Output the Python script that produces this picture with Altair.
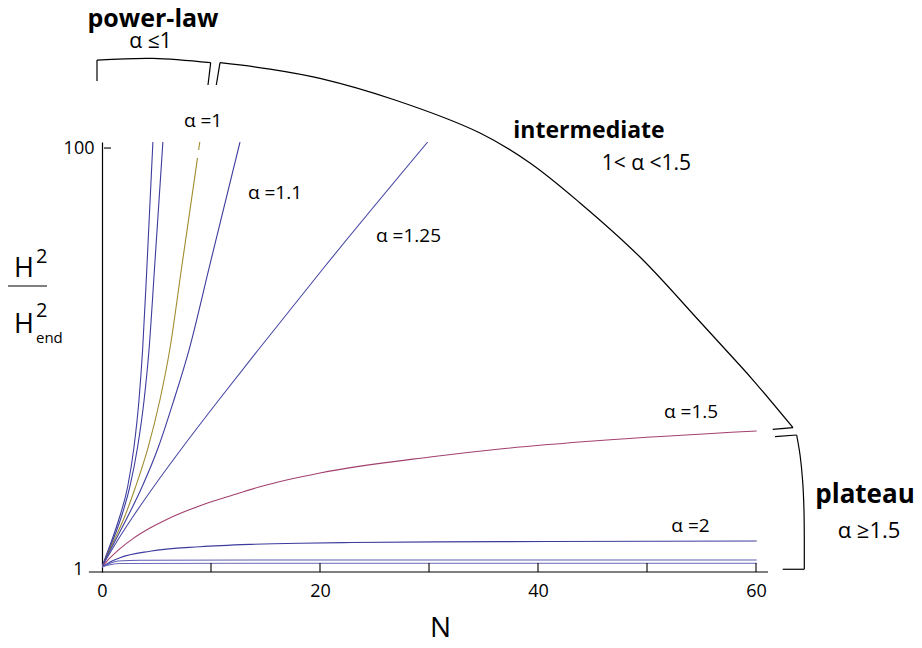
import altair as alt
import pandas as pd

FONT = "Open Sans"

# ---------------- curve data (N, H^2/H^2_end) ----------------
V_STEEP = [1.033, 1.152, 1.358, 1.783, 2.474, 3.827, 6.393, 11.03, 27.29, 106.8]

N_a1 = [0, 0.330, 0.844, 1.615, 2.349, 2.936, 3.394, 3.725, 4.119, 4.670]
N_a2 = [0, 0.367, 0.936, 1.771, 2.550, 3.266, 3.862, 4.312, 4.826, 5.587]
N_a11 = [0, 0.440, 1.147, 2.339, 3.670, 5.174, 6.596, 7.982, 9.844, 12.661]
N_a125 = [0, 0.514, 1.339, 2.817, 4.725, 7.413, 10.716, 14.321, 20.404, 29.881]

# alpha = 1 (drawn with a small break near the top, as in the original)
N_a10_lo = [0, 0.404, 1.037, 2.064, 3.073, 4.239, 5.312, 6.211, 7.312, 8.761]
V_a10_lo = [1.033, 1.152, 1.358, 1.783, 2.474, 3.827, 6.393, 11.03, 27.29, 89.66]
N_a10_hi = [8.862, 8.972]
V_a10_hi = [97.84, 106.8]

N_a15 = [0, 0.734, 1.651, 2.844, 4.404, 5.936, 8.991, 11.743, 14.495, 20.0, 30.09, 36.51, 45.69, 60.06]
V_a15 = [1.033, 1.140, 1.263, 1.409, 1.581, 1.737, 2.017, 2.242, 2.482, 2.883, 3.432, 3.746, 4.110, 4.559]

N_a2p = [0, 0.734, 1.651, 4.404, 8.991, 13.578, 18.165, 22.936, 36.514, 60.06]
V_a2p = [1.033, 1.091, 1.144, 1.228, 1.289, 1.322, 1.340, 1.350, 1.363, 1.372]

N_a3 = [0, 0.734, 1.468, 3.486, 14.50, 60.06]
V_a3 = [1.033, 1.074, 1.103, 1.112, 1.115, 1.115]

N_a4 = [0, 0.734, 1.651, 14.50, 60.06]
V_a4 = [1.033, 1.058, 1.074, 1.076, 1.076]

series = [
    ("s1", N_a1, V_STEEP),
    ("s2", N_a2, V_STEEP),
    ("alpha=1", N_a10_lo, V_a10_lo),
    ("alpha=1 top", N_a10_hi, V_a10_hi),
    ("alpha=1.1", N_a11, V_STEEP),
    ("alpha=1.25", N_a125, V_STEEP),
    ("alpha=1.5", N_a15, V_a15),
    ("alpha=2", N_a2p, V_a2p),
    ("s3", N_a3, V_a3),
    ("s4", N_a4, V_a4),
]
series_colors = ["#3c3c9e", "#3c3c9e", "#a08c30", "#a08c30", "#3c3c9e", "#4a4aa8",
                 "#a2406f", "#3c3c9e", "#5c5cb4", "#6a6abc"]

# curve labels
lab_text = ["α =1", "α =1.1", "α =1.25", "α =1.5", "α =2"]
lab_N = [9.27, 15.87, 28.12, 54.04, 53.99]
lab_V = [126.2, 57.5, 35.97, 5.236, 1.519]

# regime titles / conditions
grp_text = ["power-law", "intermediate", "plateau"]
grp_N = [4.68, 44.68, 70.0]
grp_V = [374.6, 111.2, 2.084]
grp_size = [25, 23, 26]
cond_text = ["α ≤1", "1<  α  <1.5", "α ≥1.5"]
cond_N = [4.45, 49.95, 70.37]
cond_V = [297.8, 78.65, 1.413]
cond_size = [21, 21, 22]

# brackets: (segment, kind, N list, V list)
brackets = [
    ("pl_l", "lin", [-0.459, -0.459], [207.7, 261.2]),
    ("pl_a", "arc", [-0.459, 4.679, 9.972], [261.2, 266.1, 253.8]),
    ("pl_r", "lin", [9.972, 9.725], [253.8, 198.9]),
    ("im_l", "lin", [10.486, 10.826], [198.9, 253.8]),
    ("im_a", "arc", [10.826, 15.41, 20.0, 26.881, 34.679, 39.266, 43.853, 49.358, 54.862, 58.073, 59.725, 63.394],
     [253.8, 236.8, 213.9, 168.9, 117.8, 84.9, 54.9, 30.43, 15.02, 9.89, 7.95, 4.725]),
    ("im_e", "lin", [63.394, 61.532], [4.725, 4.643]),
    ("pt_t", "lin", [61.743, 63.73], [4.283, 4.364]),
    ("pt_a", "arc", [63.73, 64.04, 64.27, 64.40, 64.43], [4.364, 3.508, 2.670, 1.925, 1.008]),
    ("pt_b", "lin", [64.43, 62.45], [1.008, 1.008]),
]

X_TICKS = [10, 20, 30, 40, 50, 60]
X_LABELS = [0, 20, 40, 60]
Y_LABELS = [1, 100]
X_MIN, X_MAX = 0, 61.1
Y_MIN, Y_MAX = 0.9784, 106.8

# ---------------- build tables ----------------
rows = []
for name, Ns, Vs in series:
    for i, (n, v) in enumerate(zip(Ns, Vs)):
        rows.append({"series": name, "N": n, "H2": v, "i": i})
df_curves = pd.DataFrame(rows)

brows = []
for seg, kind, Ns, Vs in brackets:
    for i, (n, v) in enumerate(zip(Ns, Vs)):
        brows.append({"seg": seg, "kind": kind, "N": n, "H2": v, "i": i})
df_br = pd.DataFrame(brows)

df_lab = pd.DataFrame({"text": lab_text, "N": lab_N, "H2": lab_V})
df_grp = pd.DataFrame({"text": grp_text, "N": grp_N, "H2": grp_V, "size": grp_size})
df_cond = pd.DataFrame({"text": cond_text, "N": cond_N, "H2": cond_V, "size": cond_size})
df_xt = pd.DataFrame({"N": X_TICKS, "y0": [Y_MIN] * len(X_TICKS), "y1": [1.079] * len(X_TICKS)})
one = pd.DataFrame({"a": [0]})

xscale = alt.Scale(domain=[X_MIN, X_MAX], nice=False, zero=False)
yscale = alt.Scale(type="log", domain=[Y_MIN, Y_MAX], nice=False)

x_enc = alt.X(
    "N:Q", scale=xscale,
    axis=alt.Axis(values=X_LABELS, ticks=False, domain=False, grid=False,
                  labelFont=FONT, labelFontSize=18, labelColor="black",
                  labelPadding=10, labelFlush=False,
                  title="N", titleFont=FONT, titleFontSize=28, titleFontWeight="normal",
                  titleColor="black", titleX=338, titleY=64,
                  titleBaseline="alphabetic", titleAlign="center"),
)
y_enc = alt.Y(
    "H2:Q", scale=yscale,
    axis=alt.Axis(values=Y_LABELS, format="d", ticks=False, domain=True,
                  domainColor="black", domainWidth=1.2, grid=False,
                  labelFont=FONT, labelFontSize=18, labelColor="black",
                  labelPadding={"condition": {"test": "datum.value == 1", "value": 19}, "value": 8},
                  labelFlush=False, labelBaseline="middle", title=None),
)

curves = alt.Chart(df_curves).mark_line(interpolate="monotone", strokeWidth=1.1, clip=True).encode(
    x=x_enc, y=y_enc,
    color=alt.Color("series:N", scale=alt.Scale(domain=[s[0] for s in series], range=series_colors), legend=None),
    order="i:Q",
)

x_axis_line = alt.Chart(one).mark_rule(color="black", strokeWidth=1.2).encode(
    x=alt.datum(-1.2), x2=alt.datum(X_MAX), y=alt.datum(Y_MIN)
)
x_ticks = alt.Chart(df_xt).mark_rule(color="black", strokeWidth=1.1).encode(
    x="N:Q", y="y0:Q", y2="y1:Q"
)
y_tick = alt.Chart(one).mark_rule(color="black", strokeWidth=1.1).encode(
    x=alt.datum(0.18), x2=alt.datum(0.83), y=alt.datum(100)
)

labels = alt.Chart(df_lab).mark_text(font=FONT, fontSize=19, align="center", baseline="alphabetic",
                                     color="black").encode(x="N:Q", y="H2:Q", text="text:N")
groups = alt.Chart(df_grp).mark_text(font=FONT, fontWeight="bold", align="center",
                                     baseline="alphabetic", color="black").encode(
    x="N:Q", y="H2:Q", text="text:N", size=alt.Size("size:Q", scale=None, legend=None))
conds = alt.Chart(df_cond).mark_text(font=FONT, align="center", baseline="alphabetic",
                                     color="black").encode(
    x="N:Q", y="H2:Q", text="text:N", size=alt.Size("size:Q", scale=None, legend=None))

br_lin = alt.Chart(df_br).transform_filter("datum.kind == 'lin'").mark_line(
    color="black", strokeWidth=1.2, clip=False, interpolate="linear").encode(
    x="N:Q", y="H2:Q", detail="seg:N", order="i:Q")
br_arc = alt.Chart(df_br).transform_filter("datum.kind == 'arc'").mark_line(
    color="black", strokeWidth=1.2, clip=False, interpolate="catmull-rom").encode(
    x="N:Q", y="H2:Q", detail="seg:N", order="i:Q")

# y title: H^2 / H^2_end
t_H1 = alt.Chart(one).mark_text(text="H", font=FONT, fontSize=27, align="center", baseline="alphabetic",
                                color="black").encode(x=alt.value(-78), y=alt.value(135))
t_21 = alt.Chart(one).mark_text(text="2", font=FONT, fontSize=20, align="left", baseline="alphabetic",
                                color="black").encode(x=alt.value(-66), y=alt.value(121))
t_bar = alt.Chart(one).mark_rule(color="black", strokeWidth=1.2).encode(
    x=alt.value(-94), x2=alt.value(-55), y=alt.value(144))
t_H2 = alt.Chart(one).mark_text(text="H", font=FONT, fontSize=27, align="center", baseline="alphabetic",
                                color="black").encode(x=alt.value(-78), y=alt.value(191))
t_22 = alt.Chart(one).mark_text(text="2", font=FONT, fontSize=20, align="left", baseline="alphabetic",
                                color="black").encode(x=alt.value(-66), y=alt.value(175))
t_end = alt.Chart(one).mark_text(text="end", font=FONT, fontSize=15, align="left", baseline="alphabetic",
                                 color="black").encode(x=alt.value(-66), y=alt.value(201))

chart = alt.layer(
    curves, x_axis_line, x_ticks, y_tick, labels, groups, conds, br_lin, br_arc,
    t_H1, t_21, t_bar, t_H2, t_22, t_end,
).properties(
    width=666, height=430,
    autosize=alt.AutoSizeParams(type="none"),
    padding={"left": 94, "top": 134, "right": 146, "bottom": 68},
).configure(background="white", view=alt.ViewConfig(stroke=None))

chart.save("out.html", embed_options={"renderer": "svg", "actions": False})
